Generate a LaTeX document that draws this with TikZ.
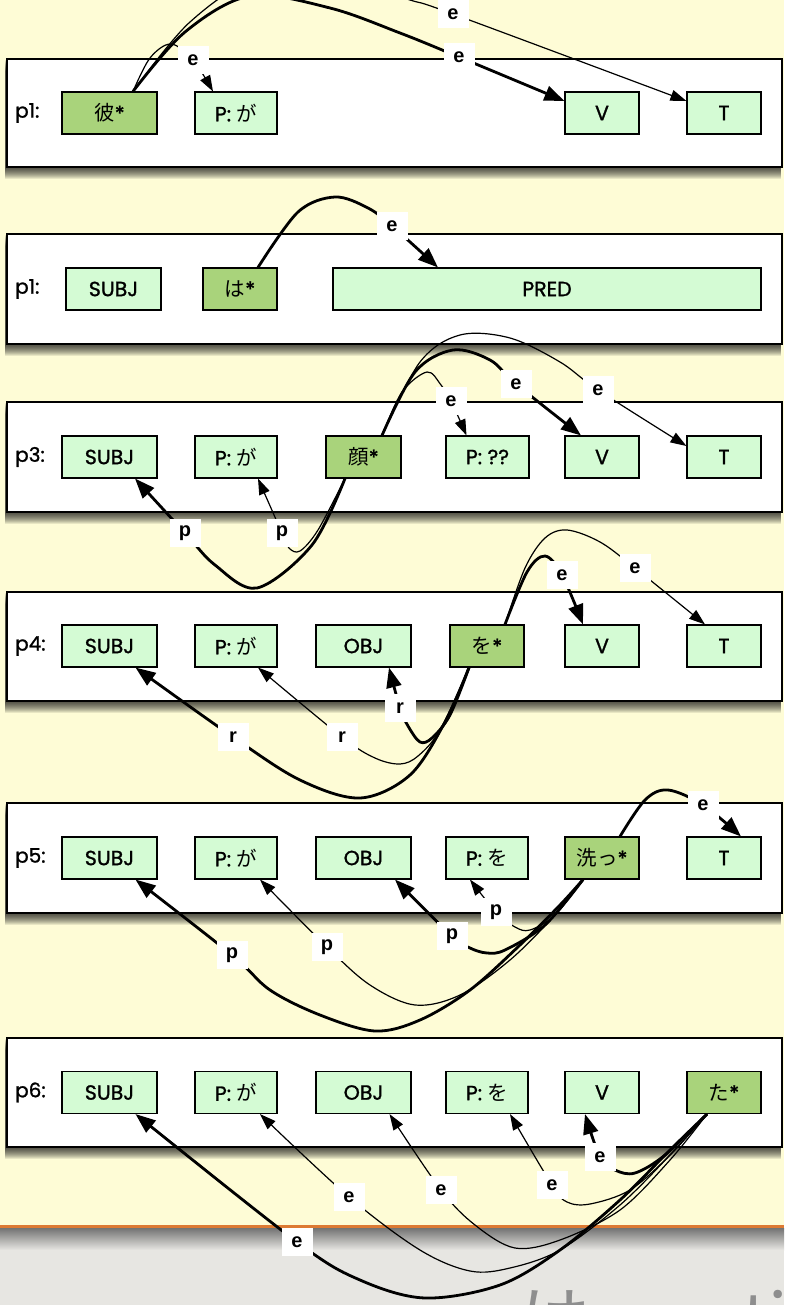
\documentclass[tikz,border=0pt]{standalone}
\usepackage{fontspec}
\setmainfont{Poppins}[FakeBold=1.2]
\newfontfamily\jp{Noto Sans CJK JP}
\newfontfamily\jpl{Noto Sans CJK JP}
\newfontfamily\lb{Liberation Sans}
\usetikzlibrary{arrows.meta}
\definecolor{cream}{HTML}{FEFCD6}
\definecolor{lg}{HTML}{D4FBD4}
\definecolor{dg}{HTML}{A9D37B}
\definecolor{bot}{HTML}{E7E6E2}
\definecolor{orng}{HTML}{DD7A33}
\definecolor{ghost}{HTML}{8E8E8E}
\tikzset{
 box/.style={draw=black, line width=1.1pt, fill=lg, minimum height=42pt, inner sep=0pt, font=\fontsize{20.5}{21}\selectfont},
 hd/.style={box, fill=dg},
 plab/.style={anchor=west, inner sep=0pt, font=\fontsize{20}{21}\selectfont},
 elab/.style={fill=white, minimum width=31pt, minimum height=28pt, inner sep=0pt, font=\lb\bfseries\fontsize{20}{20}\selectfont},
 thk/.style={line width=2.8pt, -{Triangle[length=20pt,width=15pt]}},
 thn/.style={line width=1.2pt, -{Triangle[length=16pt,width=11pt]}},
 sm/.style={smooth, tension=0.55},
}
\begin{document}
\begin{tikzpicture}[x=1pt,y=-1pt]
\useasboundingbox (0,0) rectangle (784,1305);
\clip (0,0) rectangle (784,1305);
\fill[cream] (0,0) rectangle (784,1226);
\fill[bot] (0,1226) rectangle (784,1305);
\shade[top color=black!55, bottom color=bot] (0,1228) rectangle (784,1250);
\fill[orng] (0,1225) rectangle (784,1228);
\node[anchor=base west, inner sep=0pt, text=ghost, font=\jpl\fontsize{70}{70}\selectfont] (nx) at (520,1344) {は};
\node[anchor=base west, inner sep=0pt, text=ghost, font=\jpl\fontsize{70}{70}\selectfont] (ny) at (742,1344) {ti};
% panels
\foreach \a/\b in {59/167,234/344,402/512,592/701,803/913,1038/1147}{
  \foreach \k in {1,...,12} \fill[black,opacity=0.085] (5,\a+\k) rectangle (781,\b+\k);
  \draw[fill=white, line width=1.3pt] (7,\a) rectangle (782,\b);
}
% row 1
\node[plab] (pa) at (15,113) {p1:};
\node[hd, minimum width=95pt] (a1) at (109.5,113) {{\jp 彼}*};
\node[box, minimum width=82pt] (a2) at (236,113) {P: {\jp が}};
\node[box, minimum width=74pt] (a5) at (602,113) {V};
\node[box, minimum width=74pt] (a6) at (724,113) {T};
% row 2
\node[plab] (pb) at (15,289) {p1:};
\node[box, minimum width=95pt] (b1) at (113.5,289) {SUBJ};
\node[hd, minimum width=74pt] (b2) at (240,289) {{\jp は}*};
\node[box, minimum width=428pt] (b3) at (547,289) {PRED};
% row 3
\node[plab] (pc) at (15,457) {p3:};
\node[box, minimum width=95pt] (c1) at (109.5,457) {SUBJ};
\node[box, minimum width=82pt] (c2) at (236,457) {P: {\jp が}};
\node[hd, minimum width=75pt] (c3) at (363.5,457) {{\jp 顔}*};
\node[box, minimum width=83pt] (c4) at (487.5,457) {P: ??};
\node[box, minimum width=74pt] (c5) at (602,457) {V};
\node[box, minimum width=74pt] (c6) at (724,457) {T};
% row 4
\node[plab] (pd) at (15,646) {p4:};
\node[box, minimum width=95pt] (d1) at (109.5,646) {SUBJ};
\node[box, minimum width=82pt] (d2) at (236,646) {P: {\jp が}};
\node[box, minimum width=95pt] (d3) at (363.5,646) {OBJ};
\node[hd, minimum width=74pt] (d4) at (487,646) {{\jp を}*};
\node[box, minimum width=74pt] (d5) at (602,646) {V};
\node[box, minimum width=74pt] (d6) at (724,646) {T};
% row 5
\node[plab] (pe) at (15,858) {p5:};
\node[box, minimum width=95pt] (e1) at (109.5,858) {SUBJ};
\node[box, minimum width=82pt] (e2) at (236,858) {P: {\jp が}};
\node[box, minimum width=95pt] (e3) at (363.5,858) {OBJ};
\node[box, minimum width=82pt] (e4) at (487,858) {P: {\jp を}};
\node[hd, minimum width=74pt] (e5) at (602,858) {{\jp 洗っ}*};
\node[box, minimum width=74pt] (e6) at (724,858) {T};
% row 6
\node[plab] (pf) at (15,1092.5) {p6:};
\node[box, minimum width=95pt] (f1) at (109.5,1092.5) {SUBJ};
\node[box, minimum width=82pt] (f2) at (236,1092.5) {P: {\jp が}};
\node[box, minimum width=95pt] (f3) at (363.5,1092.5) {OBJ};
\node[box, minimum width=82pt] (f4) at (487,1092.5) {P: {\jp を}};
\node[box, minimum width=74pt] (f5) at (602,1092.5) {V};
\node[hd, minimum width=74pt] (f6) at (724,1092.5) {{\jp た}*};
% label points
\coordinate (L1a) at (193,60);  \coordinate (L1b) at (459,57); \coordinate (L1c) at (453,14);
\coordinate (L2) at (392,226);
\coordinate (L3a) at (451,401); \coordinate (L3b) at (516,384); \coordinate (L3c) at (598,390);
\coordinate (L3d) at (185,533); \coordinate (L3e) at (282,533);
\coordinate (L4a) at (562,575); \coordinate (L4b) at (635,568); \coordinate (L4c) at (233,737);
\coordinate (L4d) at (342,737); \coordinate (L4e) at (400,708);
\coordinate (L5a) at (703,805); \coordinate (L5b) at (232,955); \coordinate (L5c) at (327,947);
\coordinate (L5d) at (452,936); \coordinate (L5e) at (496,912);
\coordinate (L6a) at (297,1242); \coordinate (L6b) at (349,1197); \coordinate (L6c) at (441,1190);
\coordinate (L6d) at (552,1185); \coordinate (L6e) at (600,1157);
% sources
\coordinate (s1) at ([xshift=23.5pt]a1.north);
\coordinate (s2) at ([xshift=18pt]b2.north);
\coordinate (s3t) at ([xshift=18.5pt]c3.north);
\coordinate (s3b) at ([xshift=-18.5pt]c3.south);
\coordinate (s4t) at ([xshift=18pt]d4.north);
\coordinate (s4b) at ([xshift=-18pt]d4.south);
\coordinate (s5t) at ([xshift=18pt]e5.north);
\coordinate (s5b) at ([xshift=-19pt]e5.south);
\coordinate (s6b) at ([xshift=-17pt]f6.south);
% edges row 1
\draw[thn] plot[sm] coordinates {(s1) (150,58) (171,44) (L1a) ([xshift=-23pt]a2.north)};
\draw[thk] plot[sm] coordinates {(s1) (185,32) (250,-4) (330,8) (400,33) (L1b) ([yshift=12pt]a5.west)};
\draw[thn] plot[sm] coordinates {(s1) (190,22) (260,-22) (350,-18) (410,0) (L1c) ([yshift=12pt]a6.west)};
% row 2
\draw[thk] plot[sm] coordinates {(s2) (298,212) (335,197) (368,208) (L2) ([xshift=-109pt]b3.north)};
% row 3
\draw[thn] plot[sm] coordinates {(s3t) (402,392) (427,372) (441,385) (L3a) ([xshift=-21pt]c4.north)};
\draw[thk] plot[sm] coordinates {(s3t) (415,372) (453,350) (490,360) (L3b) ([xshift=-21pt]c5.north)};
\draw[thn] plot[sm] coordinates {(s3t) (420,362) (460,335) (510,338) (560,362) (L3c) ([yshift=11pt]c6.west)};
\draw[thk] plot[sm] coordinates {(s3b) (312,545) (257,588) (215,565) (L3d) ([xshift=25.5pt]c1.south)};
\draw[thn] plot[sm] coordinates {(s3b) (318,530) (300,551) (289,548) (L3e) ([xshift=22pt]c2.south)};
% row 4
\draw[thk] plot[sm] coordinates {(s4t) (527,572) (545,556) (L4a) ([xshift=-19pt]d5.north)};
\draw[thn] plot[sm] coordinates {(s4t) (525,568) (545,538) (567,530) (600,542) (L4b) ([xshift=-19pt]d6.north)};
\draw[thk] plot[sm] coordinates {(s4b) (445,722) (410,775) (360,798) (300,780) (L4c) ([xshift=26pt]d1.south)};
\draw[thn] plot[sm] coordinates {(s4b) (440,730) (418,756) (400,764) (375,758) (L4d) ([xshift=22pt]d2.south)};
\draw[thk] plot[sm] coordinates {(s4b) (450,715) (432,738) (420,742) (408,726) (L4e) ([xshift=25.5pt]d3.south)};
% row 5
\draw[thk] plot[sm] coordinates {(s5t) (645,800) (668,790) (L5a) ([xshift=17pt]e6.north)};
\draw[thk] plot[sm] coordinates {(s5b) (560,905) (520,945) (470,990) (420,1020) (375,1031) (320,1015) (270,990) (L5b) ([xshift=26pt]e1.south)};
\draw[thn] plot[sm] coordinates {(s5b) (555,915) (510,960) (460,995) (415,1005) (370,985) (L5c) ([xshift=24pt]e2.south)};
\draw[thk] plot[sm] coordinates {(s5b) (545,925) (505,950) (487,953) (470,948) (L5d) ([xshift=31.5pt]e3.south)};
\draw[thn] plot[sm] coordinates {(s5b) (555,915) (530,930) (515,927) (L5e) ([xshift=-17pt]e4.south)};
% row 6
\draw[thk] plot[sm] coordinates {(s6b) (670,1150) (620,1200) (560,1250) (500,1285) (425,1298) (360,1280) (L6a) ([xshift=26pt]f1.south)};
\draw[thn] plot[sm] coordinates {(s6b) (670,1155) (620,1205) (560,1250) (510,1268) (470,1271) (420,1250) (L6b) ([xshift=24pt]f2.south)};
\draw[thn] plot[sm] coordinates {(s6b) (670,1160) (620,1210) (560,1240) (515,1248) (475,1225) (L6c) ([xshift=26pt]f3.south)};
\draw[thn] plot[sm] coordinates {(s6b) (670,1155) (630,1190) (590,1204) (567,1202) (L6d) ([xshift=23pt]f4.south)};
\draw[thk] plot[sm] coordinates {(s6b) (665,1155) (635,1173) (615,1170) (L6e) ([xshift=-17pt]f5.south)};
% labels
\node[elab] (l1a) at (L1a) {e}; \node[elab] (l1b) at (L1b) {e}; \node[elab] (l1c) at (L1c) {e};
\node[elab] (l2) at (L2) {e};
\node[elab] (l3a) at (L3a) {e}; \node[elab] (l3b) at (L3b) {e}; \node[elab] (l3c) at (L3c) {e};
\node[elab] (l3d) at (L3d) {p}; \node[elab] (l3e) at (L3e) {p};
\node[elab] (l4a) at (L4a) {e}; \node[elab] (l4b) at (L4b) {e}; \node[elab] (l4c) at (L4c) {r};
\node[elab] (l4d) at (L4d) {r}; \node[elab] (l4e) at (L4e) {r};
\node[elab] (l5a) at (L5a) {e}; \node[elab] (l5b) at (L5b) {p}; \node[elab] (l5c) at (L5c) {p};
\node[elab] (l5d) at (L5d) {p}; \node[elab] (l5e) at (L5e) {p};
\node[elab] (l6a) at (L6a) {e}; \node[elab] (l6b) at (L6b) {e}; \node[elab] (l6c) at (L6c) {e};
\node[elab] (l6d) at (L6d) {e}; \node[elab] (l6e) at (L6e) {e};
\end{tikzpicture}
\end{document}
